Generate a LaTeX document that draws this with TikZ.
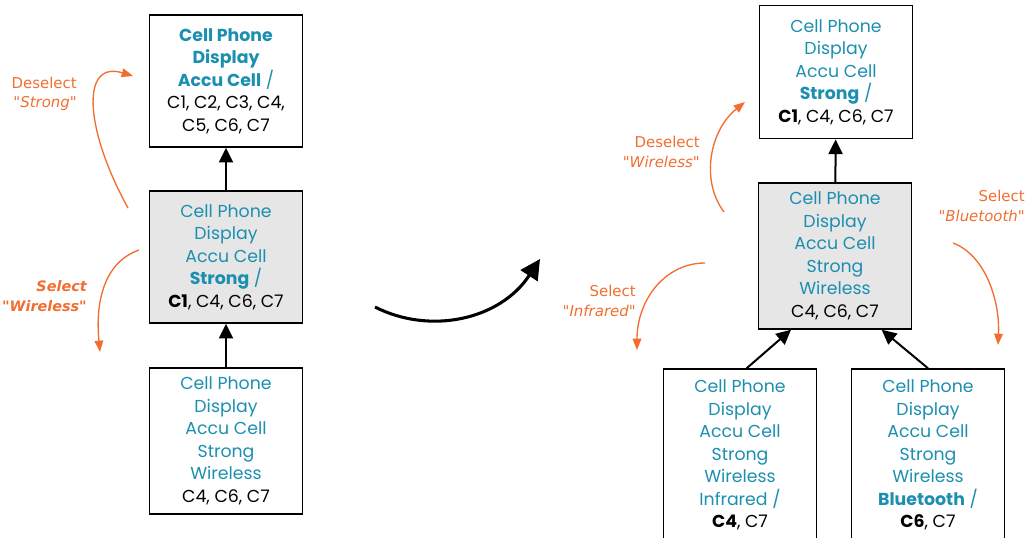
\documentclass[tikz,border=0pt]{standalone}
\usepackage{fontspec}
\setmainfont{Poppins}
\newfontfamily\labelfont{DejaVu Sans}
\usetikzlibrary{arrows.meta}

\definecolor{featblue}{RGB}{28,143,176}
\definecolor{selorange}{RGB}{242,110,48}
\definecolor{curgray}{RGB}{230,230,230}
\newcommand{\ft}[1]{\textcolor{featblue}{#1}}

\tikzset{
  state/.style={draw, line width=1.1pt, minimum width=115pt, inner sep=0pt, align=center,
    font=\fontsize{13pt}{16.9pt}\selectfont},
  current/.style={state, fill=curgray},
  trans/.style={-{Triangle[width=10.5pt,length=11pt]}, line width=1.5pt},
  edit/.style={-{Triangle[width=6.5pt,length=8.5pt]}, draw=selorange, line width=1pt},
  editlabel/.style={text=selorange, align=right, anchor=east, inner sep=0pt,
    font=\labelfont\fontsize{11.2pt}{14.5pt}\selectfont},
}

\begin{document}
\begin{tikzpicture}[x=0.75pt,y=-0.75pt]
\clip (0,0) rectangle (1031,537);

% left: before
\node[state, minimum height=99pt] (ltop) at (226,81) {\ft{\textbf{Cell Phone}}\\ \ft{\textbf{Display}}\\ \ft{\textbf{Accu Cell} /}\\ C1, C2, C3, C4,\\ C5, C6, C7};
\node[current, minimum height=99pt] (lmid) at (226,257) {\ft{Cell Phone}\\ \ft{Display}\\ \ft{Accu Cell}\\ \ft{\textbf{Strong} /}\\ \textbf{C1}, C4, C6, C7};
\node[state, minimum height=109.5pt] (lbot) at (226,441) {\ft{Cell Phone}\\ \ft{Display}\\ \ft{Accu Cell}\\ \ft{Strong}\\ \ft{Wireless}\\ C4, C6, C7};

\draw[trans] (lmid) -- (ltop);
\draw[trans] (lbot) -- (lmid);

\node[editlabel] (ldesel) at (77,94) {Deselect\\"\textit{Strong}"};
\node[editlabel, font=\labelfont\bfseries\itshape\fontsize{10.8pt}{14.5pt}\selectfont] (lsel) at (87,296) {Select\\"Wireless"};
\coordinate (ldesel0) at (128,208);
\coordinate (ldesel1) at (133,76);
\coordinate (lsel0) at (139,250);
\coordinate (lsel1) at (100,352);
\draw[edit] (ldesel0) .. controls (85,130) and (80,60) .. (ldesel1);
\draw[edit] (lsel0) .. controls (105,262) and (95,300) .. (lsel1);

% the step between both
\coordinate (step0) at (375,307);
\coordinate (step1) at (540,259);
\draw[-{Triangle[width=15pt,length=15pt]}, line width=2.3pt] (step0) .. controls (430,335) and (500,320) .. (step1);

% right: after
\node[state, minimum height=100pt] (rtop) at (836,72) {\ft{Cell Phone}\\ \ft{Display}\\ \ft{Accu Cell}\\ \ft{\textbf{Strong} /}\\ \textbf{C1}, C4, C6, C7};
\node[current, minimum height=109.5pt] (rmid) at (835,256) {\ft{Cell Phone}\\ \ft{Display}\\ \ft{Accu Cell}\\ \ft{Strong}\\ \ft{Wireless}\\ C4, C6, C7};
\node[state, minimum height=129pt] (rbl) at (740,455) {\ft{Cell Phone}\\ \ft{Display}\\ \ft{Accu Cell}\\ \ft{Strong}\\ \ft{Wireless}\\ \ft{Infrared /}\\ \textbf{C4}, C7};
\node[state, minimum height=129pt] (rbr) at (928,455) {\ft{Cell Phone}\\ \ft{Display}\\ \ft{Accu Cell}\\ \ft{Strong}\\ \ft{Wireless}\\ \ft{\textbf{Bluetooth} /}\\ \textbf{C6}, C7};

\draw[trans] (rmid) -- (rtop);
\draw[trans] ([xshift=5pt]rbl.north) -- ([xshift=-33pt]rmid.south);
\draw[trans] (rbr.north) -- ([xshift=35pt]rmid.south);

\node[editlabel] (rdesel) at (700,152) {Deselect\\"\textit{Wireless}"};
\node[editlabel] (rselir) at (636,301) {Select\\"\textit{Infrared}"};
\node[editlabel] (rselbt) at (1025,206) {Select\\"\textit{Bluetooth}"};
\coordinate (rdesel0) at (724,212);
\coordinate (rdesel1) at (745,102);
\coordinate (rselir0) at (705,263);
\coordinate (rselir1) at (637,350);
\coordinate (rselbt0) at (953,243);
\coordinate (rselbt1) at (998,345);
\draw[edit] (rdesel0) .. controls (700,180) and (710,130) .. (rdesel1);
\draw[edit] (rselir0) .. controls (665,263) and (637,300) .. (rselir1);
\draw[edit] (rselbt0) .. controls (985,255) and (1000,300) .. (rselbt1);
\end{tikzpicture}
\end{document}
